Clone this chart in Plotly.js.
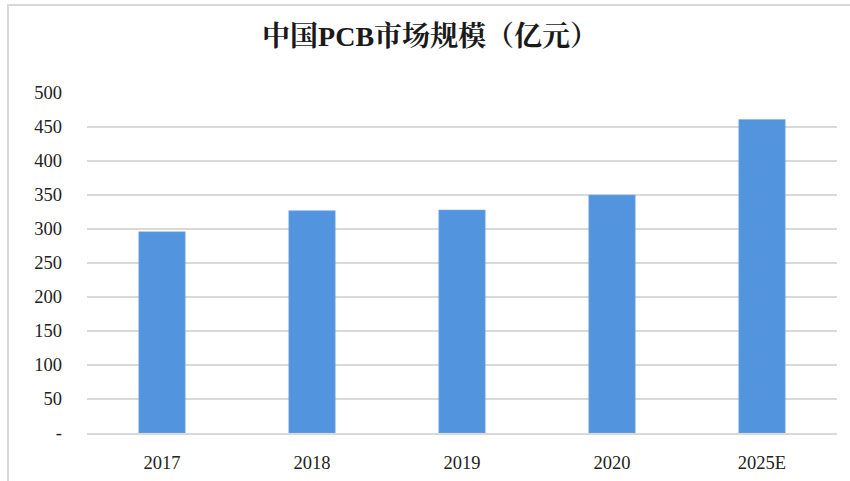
<!DOCTYPE html>
<html>
<head>
<meta charset="utf-8">
<script src="https://cdn.plot.ly/plotly-3.0.1.min.js"></script>
<style>
  html, body { margin: 0; padding: 0; background: #fff; }
  #wrap { position: relative; width: 850px; height: 481px; overflow: hidden; }
  #frame { position: absolute; left: 7px; top: 4px; width: 850px; height: 490px;
           border-top: 2px solid #d9d9d9; border-left: 2px solid #d9d9d9; pointer-events: none; }
  #chart { position: absolute; left: 0; top: 0; width: 850px; height: 481px; }
</style>
</head>
<body>
<div id="wrap">
  <div id="chart"></div>
  <div id="frame"></div>
</div>
<script>
const categories = ['2017', '2018', '2019', '2020', '2025E'];
const marketSize = [296, 327, 328, 350, 461];
const yTickVals = [0, 50, 100, 150, 200, 250, 300, 350, 400, 450, 500];
const yTickText = ['-', '50', '100', '150', '200', '250', '300', '350', '400', '450', '500'];

const serif = '"Liberation Serif", "Times New Roman", "Noto Serif CJK SC", "Noto Sans CJK SC", serif';

const trace = {
  type: 'bar',
  x: categories,
  y: marketSize,
  marker: { color: '#5294dd', line: { color: '#7fb0e6', width: 0.5 } },
  hoverinfo: 'x+y'
};

const layout = {
  width: 850,
  height: 481,
  margin: { l: 87, r: 13, t: 93, b: 48, pad: 0 },
  paper_bgcolor: '#ffffff',
  plot_bgcolor: '#ffffff',
  bargap: 0.69,
  showlegend: false,
  title: {
    text: '<b>中国PCB市场规模（亿元）</b>',
    font: { family: serif, size: 28, color: '#1a1a1a' },
    x: 0.506, xanchor: 'center', xref: 'container',
    y: 1 - 36 / 481, yanchor: 'middle', yref: 'container'
  },
  xaxis: {
    type: 'category',
    showgrid: false,
    showline: true,
    linecolor: '#d9d9d9',
    linewidth: 2,
    zeroline: false,
    ticks: '',
    ticklabelstandoff: 12,
    tickfont: { family: serif, size: 18.5, color: '#222' }
  },
  yaxis: {
    range: [0, 500],
    tickvals: yTickVals,
    ticktext: yTickText,
    showgrid: true,
    gridcolor: '#d9d9d9',
    gridwidth: 1.5,
    zeroline: false,
    showline: false,
    ticks: '',
    ticklabelstandoff: 24,
    tickfont: { family: serif, size: 18.5, color: '#222' }
  }
};

Plotly.newPlot('chart', [trace], layout, { displayModeBar: false, staticPlot: true });
</script>
</body>
</html>
